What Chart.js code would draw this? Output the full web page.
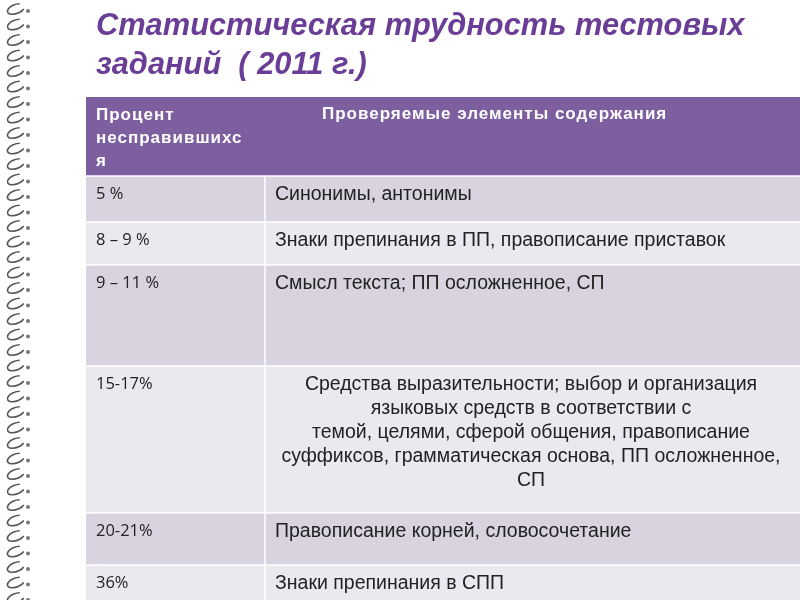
<!DOCTYPE html>
<html>
<head>
<meta charset="utf-8">
<script src="https://cdn.jsdelivr.net/npm/chart.js@4"></script>
<style>
html,body{margin:0;padding:0;background:#fff;}
#wrap{width:800px;height:600px;}
</style>
</head>
<body>
<div id="wrap"><canvas id="c" width="800" height="600"></canvas></div>
<script>
const titleLines = ['Статистическая трудность тестовых', 'заданий  ( 2011 г.)'];
const headerLeft = ['Процент', 'несправившихс', 'я'];
const headerRight = ['Проверяемые элементы содержания'];
const percents = ['5 %', '8 – 9 %', '9 – 11 %', '15-17%', '20-21%', '36%'];
const topics = [
    ['Синонимы, антонимы'],
    ['Знаки препинания в ПП, правописание приставок'],
    ['Смысл текста; ПП осложненное, СП'],
    ['Средства выразительности; выбор и организация', 'языковых средств в соответствии с', 'темой, целями, сферой общения, правописание', 'суффиксов, грамматическая основа, ПП осложненное,', 'СП'],
    ['Правописание корней, словосочетание'],
    ['Знаки препинания в СПП']
];
const centered = [false, false, false, true, false, false];
const rowEdges = [97, 176, 222, 265, 366, 513, 565, 600];
const colEdges = [86, 265, 800];
const rowFills = ['#d8d3df', '#ebe8ef', '#d8d3df', '#ebe8ef', '#d8d3df', '#ebe8ef'];

const tablePlugin = {
    id: 'table',
    beforeDraw(chart) {
        const ctx = chart.ctx, xs = chart.scales.x, ys = chart.scales.y;
        const px = v => xs.getPixelForValue(v), py = v => ys.getPixelForValue(v);
        ctx.save();
        ctx.fillStyle = '#fff';
        ctx.fillRect(0, 0, chart.width, chart.height);
        // binding spiral
        ctx.strokeStyle = '#555';
        ctx.lineWidth = 1.6;
        for (let y = 4; y < 600; y += 15.5) {
            ctx.beginPath();
            ctx.ellipse(16, y + 5, 9, 4.5, -0.35, Math.PI * 0.2, Math.PI * 1.7);
            ctx.stroke();
            ctx.fillStyle = '#777';
            ctx.beginPath();
            ctx.arc(28, y + 7, 2, 0, Math.PI * 2);
            ctx.fill();
        }
        // title
        ctx.fillStyle = '#6a3d96';
        ctx.font = 'italic bold 30.8px "Liberation Sans", Arial, sans-serif';
        ctx.textBaseline = 'alphabetic';
        ctx.fillText(titleLines[0], px(96), py(35));
        ctx.fillText(titleLines[1], px(96), py(74));
        // header
        ctx.fillStyle = '#7d5fa0';
        ctx.fillRect(px(colEdges[0]), py(rowEdges[0]), px(colEdges[2]) - px(colEdges[0]), py(rowEdges[1]) - py(rowEdges[0]));
        ctx.fillStyle = '#fff';
        ctx.font = 'bold 17px "Liberation Sans", Arial, sans-serif';
        ctx.letterSpacing = '1px';
        headerLeft.forEach((t, i) => ctx.fillText(t, px(96), py(120 + i * 23)));
        ctx.fillText(headerRight[0], px(322), py(119));
        ctx.letterSpacing = '0px';
        // rows
        for (let r = 0; r < percents.length; r++) {
            const y0 = py(rowEdges[r + 1]), y1 = py(rowEdges[r + 2]);
            ctx.fillStyle = rowFills[r];
            ctx.fillRect(px(colEdges[0]), y0, px(colEdges[2]) - px(colEdges[0]), y1 - y0);
            ctx.strokeStyle = '#fff';
            ctx.lineWidth = 1.5;
            ctx.beginPath();
            ctx.moveTo(px(colEdges[0]), y0); ctx.lineTo(px(colEdges[2]), y0);
            ctx.stroke();
            ctx.fillStyle = '#222';
            ctx.font = '16.5px "Open Sans", sans-serif';
            ctx.textAlign = 'left';
            ctx.fillText(percents[r], px(96), y0 + 23);
            ctx.font = '19.5px "Liberation Sans", Arial, sans-serif';
            topics[r].forEach((t, i) => {
                if (centered[r]) {
                    ctx.textAlign = 'center';
                    ctx.fillText(t, px(531), y0 + 24 + i * 24);
                } else {
                    ctx.textAlign = 'left';
                    ctx.fillText(t, px(275), y0 + 24 + i * 24);
                }
            });
        }
        ctx.strokeStyle = '#fff';
        ctx.lineWidth = 1.5;
        ctx.beginPath();
        ctx.moveTo(px(colEdges[1]), py(rowEdges[1])); ctx.lineTo(px(colEdges[1]), py(600));
        ctx.stroke();
        ctx.restore();
    }
};

new Chart(document.getElementById('c').getContext('2d'), {
    type: 'scatter',
    data: { datasets: [{ data: [] }] },
    options: {
        responsive: false,
        animation: false,
        layout: { padding: 0 },
        plugins: { legend: { display: false }, tooltip: { enabled: false } },
        scales: {
            x: { type: 'linear', min: 0, max: 800, display: false },
            y: { type: 'linear', min: 0, max: 600, reverse: true, display: false }
        }
    },
    plugins: [tablePlugin]
});
</script>
</body>
</html>
